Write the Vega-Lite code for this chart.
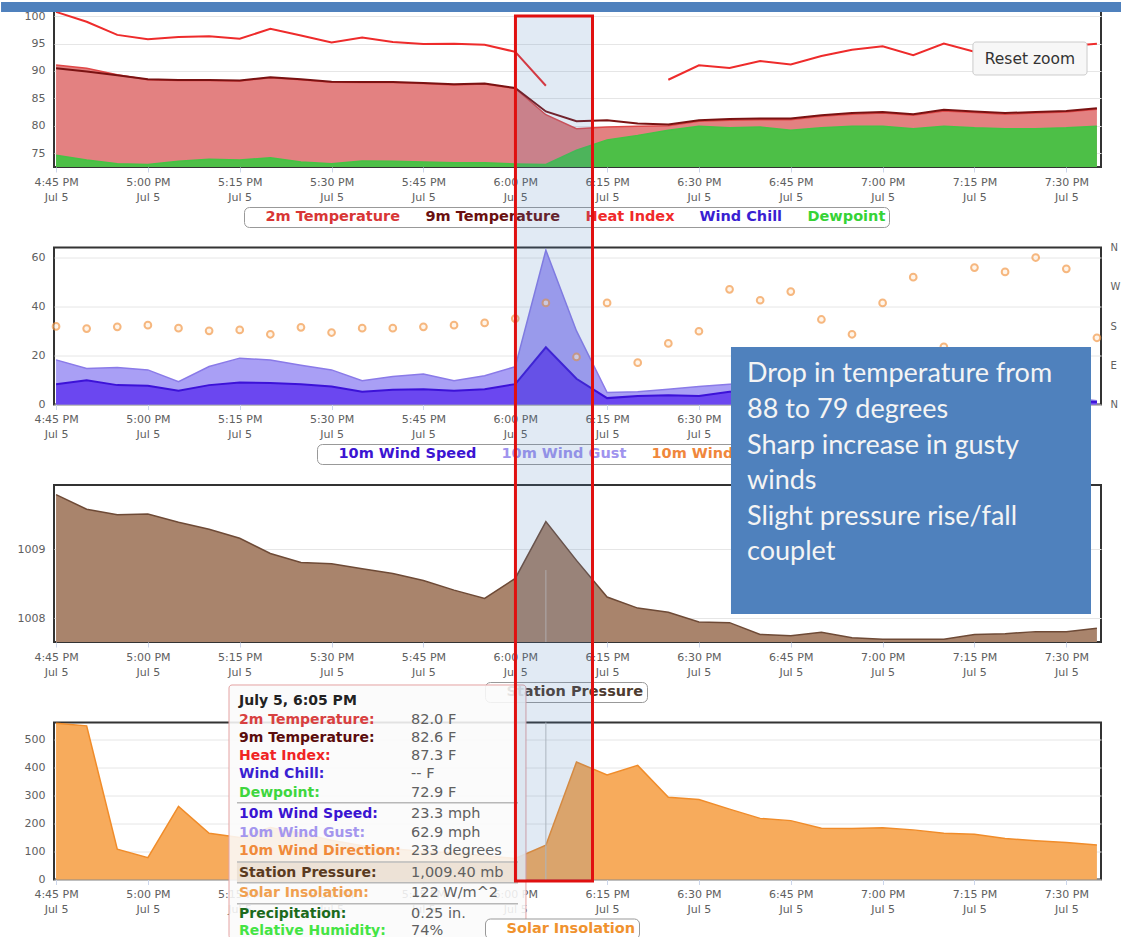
{
  "$schema": "https://vega.github.io/schema/vega-lite/v6.json",
  "padding": 0,
  "autosize": {"type": "pad"},
  "background": "#ffffff",
  "spacing": 80.5,
  "bounds": "flush",
  "config": {
    "view": {"stroke": "#333333", "strokeWidth": 2},
    "axis": {"labelFont": "DejaVu Sans", "labelFontSize": 11, "labelColor": "#606060", "gridColor": "#e6e6e6", "tickColor": "#ccd6eb", "domain": false},
    "legend": {"orient": "none", "direction": "horizontal", "labelFont": "DejaVu Sans", "labelFontSize": 14.5, "labelFontWeight": "bold", "symbolSize": 144, "symbolOpacity": 0, "symbolStrokeWidth": 0, "labelOffset": 4, "columnPadding": 6, "padding": 3, "strokeColor": "#999999", "cornerRadius": 5, "fillColor": "#ffffff"}
  },
  "resolve": {"scale": {"color": "independent"}, "legend": {"color": "independent"}},
  "datasets": {
    "wx": [
      {"t": "2014-07-05T16:45:00", "tmp2": 91.1, "tmp9": 90.5, "hi": 100.8, "hiSeg": "a", "dp": 74.6, "ws": 8.3, "wg": 18.2, "wd": 179, "p": 1009.79, "sol": 557},
      {"t": "2014-07-05T16:50:00", "tmp2": 90.5, "tmp9": 89.9, "hi": 99.0, "hiSeg": "a", "dp": 73.7, "ws": 9.9, "wg": 14.7, "wd": 174, "p": 1009.58, "sol": 548},
      {"t": "2014-07-05T16:55:00", "tmp2": 89.3, "tmp9": 89.2, "hi": 96.6, "hiSeg": "a", "dp": 73.05, "ws": 7.9, "wg": 15.1, "wd": 178, "p": 1009.50, "sol": 108},
      {"t": "2014-07-05T17:00:00", "tmp2": 88.4, "tmp9": 88.5, "hi": 95.8, "hiSeg": "a", "dp": 72.9, "ws": 7.6, "wg": 14.1, "wd": 182, "p": 1009.51, "sol": 78},
      {"t": "2014-07-05T17:05:00", "tmp2": 88.25, "tmp9": 88.35, "hi": 96.2, "hiSeg": "a", "dp": 73.5, "ws": 5.6, "wg": 9.3, "wd": 175, "p": 1009.39, "sol": 261},
      {"t": "2014-07-05T17:10:00", "tmp2": 88.25, "tmp9": 88.35, "hi": 96.35, "hiSeg": "a", "dp": 73.85, "ws": 7.9, "wg": 15.5, "wd": 169, "p": 1009.29, "sol": 165},
      {"t": "2014-07-05T17:15:00", "tmp2": 88.15, "tmp9": 88.25, "hi": 95.9, "hiSeg": "a", "dp": 73.7, "ws": 9.0, "wg": 18.9, "wd": 171, "p": 1009.16, "sol": 150},
      {"t": "2014-07-05T17:20:00", "tmp2": 88.75, "tmp9": 88.85, "hi": 97.7, "hiSeg": "a", "dp": 74.15, "ws": 8.8, "wg": 18.1, "wd": 161, "p": 1008.94, "sol": 185},
      {"t": "2014-07-05T17:25:00", "tmp2": 88.4, "tmp9": 88.5, "hi": 96.5, "hiSeg": "a", "dp": 73.35, "ws": 8.3, "wg": 16.0, "wd": 177, "p": 1008.81, "sol": 165},
      {"t": "2014-07-05T17:30:00", "tmp2": 87.95, "tmp9": 88.05, "hi": 95.2, "hiSeg": "a", "dp": 73.05, "ws": 7.3, "wg": 14.1, "wd": 165, "p": 1008.79, "sol": 140},
      {"t": "2014-07-05T17:35:00", "tmp2": 87.9, "tmp9": 88.0, "hi": 96.1, "hiSeg": "a", "dp": 73.55, "ws": 5.2, "wg": 9.7, "wd": 175, "p": 1008.72, "sol": 120},
      {"t": "2014-07-05T17:40:00", "tmp2": 87.9, "tmp9": 88.0, "hi": 95.3, "hiSeg": "a", "dp": 73.5, "ws": 6.0, "wg": 11.4, "wd": 175, "p": 1008.65, "sol": 110},
      {"t": "2014-07-05T17:45:00", "tmp2": 87.7, "tmp9": 87.8, "hi": 94.95, "hiSeg": "a", "dp": 73.35, "ws": 6.2, "wg": 12.4, "wd": 178, "p": 1008.55, "sol": 100},
      {"t": "2014-07-05T17:50:00", "tmp2": 87.45, "tmp9": 87.55, "hi": 95.0, "hiSeg": "a", "dp": 73.2, "ws": 5.6, "wg": 9.7, "wd": 182, "p": 1008.41, "sol": 95},
      {"t": "2014-07-05T17:55:00", "tmp2": 87.6, "tmp9": 87.7, "hi": 94.8, "hiSeg": "a", "dp": 73.2, "ws": 6.2, "wg": 11.7, "wd": 187, "p": 1008.29, "sol": 85},
      {"t": "2014-07-05T18:00:00", "tmp2": 86.8, "tmp9": 86.9, "hi": 93.5, "hiSeg": "a", "dp": 73.0, "ws": 8.3, "wg": 15.4, "wd": 197, "p": 1008.58, "sol": 75},
      {"t": "2014-07-05T18:05:00", "tmp2": 82.0, "tmp9": 82.6, "hi": 87.3, "hiSeg": "a", "dp": 72.9, "ws": 23.3, "wg": 62.9, "wd": 233, "p": 1009.40, "sol": 122},
      {"t": "2014-07-05T18:10:00", "tmp2": 79.45, "tmp9": 80.8, "hi": null, "hiSeg": null, "dp": 75.5, "ws": 10.5, "wg": 30.0, "wd": 109, "p": 1008.84, "sol": 419},
      {"t": "2014-07-05T18:15:00", "tmp2": 79.75, "tmp9": 81.0, "hi": null, "hiSeg": null, "dp": 77.4, "ws": 2.6, "wg": 4.9, "wd": 233, "p": 1008.31, "sol": 373},
      {"t": "2014-07-05T18:20:00", "tmp2": 79.9, "tmp9": 80.4, "hi": null, "hiSeg": null, "dp": 78.2, "ws": 3.5, "wg": 5.2, "wd": 96, "p": 1008.15, "sol": 407},
      {"t": "2014-07-05T18:25:00", "tmp2": 80.0, "tmp9": 80.2, "hi": 88.4, "hiSeg": "b", "dp": 79.15, "ws": 3.8, "wg": 6.2, "wd": 140, "p": 1008.09, "sol": 293},
      {"t": "2014-07-05T18:30:00", "tmp2": 80.8, "tmp9": 81.0, "hi": 91.05, "hiSeg": "b", "dp": 79.9, "ws": 3.5, "wg": 7.3, "wd": 168, "p": 1007.95, "sol": 285},
      {"t": "2014-07-05T18:35:00", "tmp2": 81.0, "tmp9": 81.2, "hi": 90.55, "hiSeg": "b", "dp": 79.6, "ws": 5.2, "wg": 8.3, "wd": 264, "p": 1007.94, "sol": 251},
      {"t": "2014-07-05T18:40:00", "tmp2": 81.1, "tmp9": 81.3, "hi": 91.8, "hiSeg": "b", "dp": 79.75, "ws": 5.5, "wg": 9.0, "wd": 239, "p": 1007.77, "sol": 218},
      {"t": "2014-07-05T18:45:00", "tmp2": 81.1, "tmp9": 81.3, "hi": 91.2, "hiSeg": "b", "dp": 79.15, "ws": 5.0, "wg": 8.5, "wd": 259, "p": 1007.75, "sol": 210},
      {"t": "2014-07-05T18:50:00", "tmp2": 81.7, "tmp9": 81.9, "hi": 92.75, "hiSeg": "b", "dp": 79.6, "ws": 4.5, "wg": 8.0, "wd": 195, "p": 1007.80, "sol": 183},
      {"t": "2014-07-05T18:55:00", "tmp2": 82.1, "tmp9": 82.3, "hi": 93.9, "hiSeg": "b", "dp": 79.9, "ws": 4.0, "wg": 7.5, "wd": 161, "p": 1007.72, "sol": 182},
      {"t": "2014-07-05T19:00:00", "tmp2": 82.3, "tmp9": 82.5, "hi": 94.5, "hiSeg": "b", "dp": 79.9, "ws": 4.0, "wg": 7.0, "wd": 233, "p": 1007.70, "sol": 185},
      {"t": "2014-07-05T19:05:00", "tmp2": 81.9, "tmp9": 82.1, "hi": 92.9, "hiSeg": "b", "dp": 79.45, "ws": 3.5, "wg": 6.5, "wd": 292, "p": 1007.70, "sol": 177},
      {"t": "2014-07-05T19:10:00", "tmp2": 82.7, "tmp9": 82.9, "hi": 95.0, "hiSeg": "b", "dp": 79.9, "ws": 3.0, "wg": 6.0, "wd": 132, "p": 1007.70, "sol": 165},
      {"t": "2014-07-05T19:15:00", "tmp2": 82.4, "tmp9": 82.6, "hi": 93.5, "hiSeg": "b", "dp": 79.6, "ws": 3.0, "wg": 5.5, "wd": 314, "p": 1007.77, "sol": 161},
      {"t": "2014-07-05T19:20:00", "tmp2": 82.1, "tmp9": 82.3, "hi": 93.3, "hiSeg": "b", "dp": 79.45, "ws": 2.5, "wg": 5.0, "wd": 304, "p": 1007.78, "sol": 146},
      {"t": "2014-07-05T19:25:00", "tmp2": 82.3, "tmp9": 82.5, "hi": 94.0, "hiSeg": "b", "dp": 79.45, "ws": 2.0, "wg": 4.0, "wd": 337, "p": 1007.81, "sol": 138},
      {"t": "2014-07-05T19:30:00", "tmp2": 82.5, "tmp9": 82.7, "hi": 94.5, "hiSeg": "b", "dp": 79.6, "ws": 1.5, "wg": 3.0, "wd": 311, "p": 1007.81, "sol": 132},
      {"t": "2014-07-05T19:35:00", "tmp2": 83.0, "tmp9": 83.2, "hi": 95.0, "hiSeg": "b", "dp": 79.9, "ws": 1.0, "wg": 1.5, "wd": 153, "p": 1007.86, "sol": 123}
    ]
  },
  "vconcat": [
    {
      "width": 1047,
      "height": 157,
      "data": {"name": "wx", "format": {"parse": {"t": "date"}}},
      "encoding": {
        "x": {"field": "t", "type": "temporal", "title": null,
          "scale": {"domain": [{"year": 2014, "month": 7, "date": 5, "hours": 16, "minutes": 44, "seconds": 40}, {"year": 2014, "month": 7, "date": 5, "hours": 19, "minutes": 35, "seconds": 40}]},
          "axis": {"title": null, "grid": false, "domain": false, "tickSize": 5, "labelPadding": 4, "labelFlush": false, "labelOverlap": false, "labelBaseline": "top", "labelLineHeight": 15,
            "values": [{"year": 2014, "month": 7, "date": 5, "hours": 16, "minutes": 45}, {"year": 2014, "month": 7, "date": 5, "hours": 17, "minutes": 0}, {"year": 2014, "month": 7, "date": 5, "hours": 17, "minutes": 15}, {"year": 2014, "month": 7, "date": 5, "hours": 17, "minutes": 30}, {"year": 2014, "month": 7, "date": 5, "hours": 17, "minutes": 45}, {"year": 2014, "month": 7, "date": 5, "hours": 18, "minutes": 0}, {"year": 2014, "month": 7, "date": 5, "hours": 18, "minutes": 15}, {"year": 2014, "month": 7, "date": 5, "hours": 18, "minutes": 30}, {"year": 2014, "month": 7, "date": 5, "hours": 18, "minutes": 45}, {"year": 2014, "month": 7, "date": 5, "hours": 19, "minutes": 0}, {"year": 2014, "month": 7, "date": 5, "hours": 19, "minutes": 15}, {"year": 2014, "month": 7, "date": 5, "hours": 19, "minutes": 30}],
            "labelExpr": "[timeFormat(datum.value, '%-I:%M %p'), timeFormat(datum.value, '%b %-d')]"}
        }
      },
      "layer": [
        {"mark": {"type": "area", "color": "#e38181"},
          "encoding": {"y": {"field": "tmp2", "type": "quantitative", "title": null, "scale": {"domain": [72.44, 101.15]}, "axis": {"title": null, "values": [75, 80, 85, 90, 95, 100], "grid": true, "tickSize": 0, "labelPadding": 9}}, "y2": {"datum": 72.44}}},
        {"mark": {"type": "line", "strokeWidth": 1.5},
          "encoding": {"y": {"field": "tmp2", "type": "quantitative", "title": null, "scale": {"domain": [72.44, 101.15]}, "axis": {"title": null, "values": [75, 80, 85, 90, 95, 100], "grid": true, "tickSize": 0, "labelPadding": 9}},
            "color": {"datum": "2m Temperature", "type": "nominal",
              "scale": {"domain": ["2m Temperature", "9m Temperature", "Heat Index", "Wind Chill", "Dewpoint"], "range": ["#e04848", "#7a1212", "#ee2b2b", "#3b1fd6", "#44c244"]},
              "legend": {"title": null, "orient": "none", "legendX": 190, "legendY": 197,
                "encode": {"labels": {"update": {"fill": {"signal": "datum.label == '2m Temperature' ? '#d83636' : datum.label == '9m Temperature' ? '#6a1010' : datum.label == 'Heat Index' ? '#f02a2a' : datum.label == 'Wind Chill' ? '#3a1fd2' : '#36d336'"}}}}}}}},
        {"mark": {"type": "area", "color": "#4dbf47"},
          "encoding": {"y": {"field": "dp", "type": "quantitative", "title": null, "scale": {"domain": [72.44, 101.15]}, "axis": {"title": null, "values": [75, 80, 85, 90, 95, 100], "grid": true, "tickSize": 0, "labelPadding": 9}}, "y2": {"datum": 72.44}}},
        {"mark": {"type": "line", "strokeWidth": 1.5},
          "encoding": {"y": {"field": "dp", "type": "quantitative", "title": null, "scale": {"domain": [72.44, 101.15]}, "axis": {"title": null, "values": [75, 80, 85, 90, 95, 100], "grid": true, "tickSize": 0, "labelPadding": 9}},
            "color": {"datum": "Dewpoint", "type": "nominal",
              "scale": {"domain": ["2m Temperature", "9m Temperature", "Heat Index", "Wind Chill", "Dewpoint"], "range": ["#e04848", "#7a1212", "#ee2b2b", "#3b1fd6", "#44c244"]},
              "legend": {"title": null, "orient": "none", "legendX": 190, "legendY": 197,
                "encode": {"labels": {"update": {"fill": {"signal": "datum.label == '2m Temperature' ? '#d83636' : datum.label == '9m Temperature' ? '#6a1010' : datum.label == 'Heat Index' ? '#f02a2a' : datum.label == 'Wind Chill' ? '#3a1fd2' : '#36d336'"}}}}}}}},
        {"mark": {"type": "line", "strokeWidth": 2},
          "encoding": {"y": {"field": "tmp9", "type": "quantitative", "title": null, "scale": {"domain": [72.44, 101.15]}, "axis": {"title": null, "values": [75, 80, 85, 90, 95, 100], "grid": true, "tickSize": 0, "labelPadding": 9}},
            "color": {"datum": "9m Temperature", "type": "nominal",
              "scale": {"domain": ["2m Temperature", "9m Temperature", "Heat Index", "Wind Chill", "Dewpoint"], "range": ["#e04848", "#7a1212", "#ee2b2b", "#3b1fd6", "#44c244"]},
              "legend": {"title": null, "orient": "none", "legendX": 190, "legendY": 197,
                "encode": {"labels": {"update": {"fill": {"signal": "datum.label == '2m Temperature' ? '#d83636' : datum.label == '9m Temperature' ? '#6a1010' : datum.label == 'Heat Index' ? '#f02a2a' : datum.label == 'Wind Chill' ? '#3a1fd2' : '#36d336'"}}}}}}}},
        {"transform": [{"filter": "datum.hi != null"}],
          "mark": {"type": "line", "strokeWidth": 2},
          "encoding": {"y": {"field": "hi", "type": "quantitative", "title": null, "scale": {"domain": [72.44, 101.15]}, "axis": {"title": null, "values": [75, 80, 85, 90, 95, 100], "grid": true, "tickSize": 0, "labelPadding": 9}},
            "detail": {"field": "hiSeg"},
            "color": {"datum": "Heat Index", "type": "nominal",
              "scale": {"domain": ["2m Temperature", "9m Temperature", "Heat Index", "Wind Chill", "Dewpoint"], "range": ["#e04848", "#7a1212", "#ee2b2b", "#3b1fd6", "#44c244"]},
              "legend": {"title": null, "orient": "none", "legendX": 190, "legendY": 197,
                "encode": {"labels": {"update": {"fill": {"signal": "datum.label == '2m Temperature' ? '#d83636' : datum.label == '9m Temperature' ? '#6a1010' : datum.label == 'Heat Index' ? '#f02a2a' : datum.label == 'Wind Chill' ? '#3a1fd2' : '#36d336'"}}}}}}}},
        {"data": {"values": [{"t": "2014-07-05T19:14:45", "t2": "2014-07-05T19:33:23", "y": 89.264, "y2": 95.298, "label": "Reset zoom"}], "format": {"parse": {"t": "date", "t2": "date"}}},
          "mark": {"type": "rect", "fill": "#f7f7f7", "stroke": "#cccccc", "strokeWidth": 1, "cornerRadius": 3, "clip": false},
          "encoding": {"x2": {"field": "t2"}, "y": {"field": "y", "type": "quantitative", "title": null, "scale": {"domain": [72.44, 101.15]}, "axis": {"title": null, "values": [75, 80, 85, 90, 95, 100], "grid": true, "tickSize": 0, "labelPadding": 9}}, "y2": {"field": "y2"}}},
        {"data": {"values": [{"t": "2014-07-05T19:24:04", "y": 92.28, "label": "Reset zoom"}], "format": {"parse": {"t": "date"}}},
          "mark": {"type": "text", "font": "DejaVu Sans", "fontSize": 15.5, "color": "#333333", "align": "center", "baseline": "middle"},
          "encoding": {"y": {"field": "y", "type": "quantitative", "title": null, "scale": {"domain": [72.44, 101.15]}, "axis": {"title": null, "values": [75, 80, 85, 90, 95, 100], "grid": true, "tickSize": 0, "labelPadding": 9}},
            "text": {"field": "label"}}},
        {"data": {"values": [{"t": "2014-07-05T16:36:01", "t2": "2014-07-05T19:39:05", "y": 100.784, "y2": 102.613}], "format": {"parse": {"t": "date", "t2": "date"}}},
          "mark": {"type": "rect", "fill": "#4f81bd", "clip": false},
          "encoding": {"x2": {"field": "t2"}, "y": {"field": "y", "type": "quantitative", "title": null, "scale": {"domain": [72.44, 101.15]}, "axis": {"title": null, "values": [75, 80, 85, 90, 95, 100], "grid": true, "tickSize": 0, "labelPadding": 9}}, "y2": {"field": "y2"}}}
      ]
    },
    {
      "width": 1047,
      "height": 157,
      "data": {"name": "wx", "format": {"parse": {"t": "date"}}},
      "resolve": {"scale": {"y": "independent"}},
      "encoding": {
        "x": {"field": "t", "type": "temporal", "title": null,
          "scale": {"domain": [{"year": 2014, "month": 7, "date": 5, "hours": 16, "minutes": 44, "seconds": 40}, {"year": 2014, "month": 7, "date": 5, "hours": 19, "minutes": 35, "seconds": 40}]},
          "axis": {"title": null, "grid": false, "domain": false, "tickSize": 5, "labelPadding": 4, "labelFlush": false, "labelOverlap": false, "labelBaseline": "top", "labelLineHeight": 15,
            "values": [{"year": 2014, "month": 7, "date": 5, "hours": 16, "minutes": 45}, {"year": 2014, "month": 7, "date": 5, "hours": 17, "minutes": 0}, {"year": 2014, "month": 7, "date": 5, "hours": 17, "minutes": 15}, {"year": 2014, "month": 7, "date": 5, "hours": 17, "minutes": 30}, {"year": 2014, "month": 7, "date": 5, "hours": 17, "minutes": 45}, {"year": 2014, "month": 7, "date": 5, "hours": 18, "minutes": 0}, {"year": 2014, "month": 7, "date": 5, "hours": 18, "minutes": 15}, {"year": 2014, "month": 7, "date": 5, "hours": 18, "minutes": 30}, {"year": 2014, "month": 7, "date": 5, "hours": 18, "minutes": 45}, {"year": 2014, "month": 7, "date": 5, "hours": 19, "minutes": 0}, {"year": 2014, "month": 7, "date": 5, "hours": 19, "minutes": 15}, {"year": 2014, "month": 7, "date": 5, "hours": 19, "minutes": 30}],
            "labelExpr": "[timeFormat(datum.value, '%-I:%M %p'), timeFormat(datum.value, '%b %-d')]"}
        }
      },
      "layer": [
        {"mark": {"type": "area", "color": "#a99ff5"},
          "encoding": {"y": {"field": "wg", "type": "quantitative", "scale": {"domain": [0, 64]}, "axis": {"title": null, "orient": "left", "values": [0, 20, 40, 60], "grid": true, "tickSize": 0, "labelPadding": 9}}}},
        {"mark": {"type": "line", "strokeWidth": 1.5},
          "encoding": {"y": {"field": "wg", "type": "quantitative", "scale": {"domain": [0, 64]}, "axis": null},
            "color": {"datum": "10m Wind Gust", "type": "nominal",
              "scale": {"domain": ["10m Wind Speed", "10m Wind Gust", "10m Wind Direction"], "range": ["#3c12d8", "#8a7ae8", "#f39a4a"]},
              "legend": {"title": null, "orient": "none", "legendX": 263, "legendY": 196.5,
                "encode": {"labels": {"update": {"fill": {"signal": "datum.label == '10m Wind Speed' ? '#3c14d2' : datum.label == '10m Wind Gust' ? '#a094ee' : '#f0873c'"}}}}}}}},
        {"mark": {"type": "area", "color": "#6b47f0"},
          "encoding": {"y": {"field": "ws", "type": "quantitative", "scale": {"domain": [0, 64]}, "axis": null}}},
        {"mark": {"type": "line", "strokeWidth": 2},
          "encoding": {"y": {"field": "ws", "type": "quantitative", "scale": {"domain": [0, 64]}, "axis": null},
            "color": {"datum": "10m Wind Speed", "type": "nominal",
              "scale": {"domain": ["10m Wind Speed", "10m Wind Gust", "10m Wind Direction"], "range": ["#3c12d8", "#8a7ae8", "#f39a4a"]},
              "legend": {"title": null, "orient": "none", "legendX": 263, "legendY": 196.5,
                "encode": {"labels": {"update": {"fill": {"signal": "datum.label == '10m Wind Speed' ? '#3c14d2' : datum.label == '10m Wind Gust' ? '#a094ee' : '#f0873c'"}}}}}}}},
        {"mark": {"type": "point", "shape": "circle", "filled": false, "fill": "#fff1e2", "size": 45, "strokeWidth": 2},
          "encoding": {"y": {"field": "wd", "type": "quantitative", "scale": {"domain": [0, 360]},
              "axis": {"title": null, "orient": "right", "values": [0, 90, 180, 270, 360], "grid": false, "tickSize": 0, "labelPadding": 9, "labelFontSize": 10, "labelAlign": "left",
                "labelExpr": "datum.value == 90 ? 'E' : datum.value == 180 ? 'S' : datum.value == 270 ? 'W' : 'N'"}},
            "color": {"datum": "10m Wind Direction", "type": "nominal",
              "scale": {"domain": ["10m Wind Speed", "10m Wind Gust", "10m Wind Direction"], "range": ["#3c12d8", "#8a7ae8", "#f39a4a"]},
              "legend": {"title": null, "orient": "none", "legendX": 263, "legendY": 196.5,
                "encode": {"labels": {"update": {"fill": {"signal": "datum.label == '10m Wind Speed' ? '#3c14d2' : datum.label == '10m Wind Gust' ? '#a094ee' : '#f0873c'"}}}}}}}}
      ]
    },
    {
      "width": 1047,
      "height": 157,
      "data": {"name": "wx", "format": {"parse": {"t": "date"}}},
      "encoding": {
        "x": {"field": "t", "type": "temporal", "title": null,
          "scale": {"domain": [{"year": 2014, "month": 7, "date": 5, "hours": 16, "minutes": 44, "seconds": 40}, {"year": 2014, "month": 7, "date": 5, "hours": 19, "minutes": 35, "seconds": 40}]},
          "axis": {"title": null, "grid": false, "domain": false, "tickSize": 5, "labelPadding": 4, "labelFlush": false, "labelOverlap": false, "labelBaseline": "top", "labelLineHeight": 15,
            "values": [{"year": 2014, "month": 7, "date": 5, "hours": 16, "minutes": 45}, {"year": 2014, "month": 7, "date": 5, "hours": 17, "minutes": 0}, {"year": 2014, "month": 7, "date": 5, "hours": 17, "minutes": 15}, {"year": 2014, "month": 7, "date": 5, "hours": 17, "minutes": 30}, {"year": 2014, "month": 7, "date": 5, "hours": 17, "minutes": 45}, {"year": 2014, "month": 7, "date": 5, "hours": 18, "minutes": 0}, {"year": 2014, "month": 7, "date": 5, "hours": 18, "minutes": 15}, {"year": 2014, "month": 7, "date": 5, "hours": 18, "minutes": 30}, {"year": 2014, "month": 7, "date": 5, "hours": 18, "minutes": 45}, {"year": 2014, "month": 7, "date": 5, "hours": 19, "minutes": 0}, {"year": 2014, "month": 7, "date": 5, "hours": 19, "minutes": 15}, {"year": 2014, "month": 7, "date": 5, "hours": 19, "minutes": 30}],
            "labelExpr": "[timeFormat(datum.value, '%-I:%M %p'), timeFormat(datum.value, '%b %-d')]"}
        }
      },
      "layer": [
        {"mark": {"type": "area", "color": "#a9846c"},
          "encoding": {"y": {"field": "p", "type": "quantitative", "title": null, "scale": {"domain": [1007.66, 1009.93]}, "axis": {"title": null, "values": [1008, 1009], "grid": true, "tickSize": 0, "labelPadding": 9, "format": "d"}}, "y2": {"datum": 1007.66}}},
        {"mark": {"type": "line", "strokeWidth": 1.5},
          "encoding": {"y": {"field": "p", "type": "quantitative", "title": null, "scale": {"domain": [1007.66, 1009.93]}, "axis": {"title": null, "values": [1008, 1009], "grid": true, "tickSize": 0, "labelPadding": 9, "format": "d"}},
            "color": {"datum": "Station Pressure", "type": "nominal", "scale": {"domain": ["Station Pressure"], "range": ["#6e4a36"]},
              "legend": {"title": null, "orient": "none", "legendX": 431, "legendY": 197, "labelColor": "#4e3c30"}}}},
        {"data": {"values": [{"t": "2014-07-05T18:05:00", "y": 1007.66, "y2": 1008.70}], "format": {"parse": {"t": "date"}}},
          "mark": {"type": "rule", "color": "#c4b4a8", "strokeWidth": 1},
          "encoding": {"y": {"field": "y", "type": "quantitative", "title": null, "scale": {"domain": [1007.66, 1009.93]}, "axis": {"title": null, "values": [1008, 1009], "grid": true, "tickSize": 0, "labelPadding": 9, "format": "d"}}, "y2": {"field": "y2"}}},
        {"data": {"values": [{"t": "2014-07-05T18:35:14", "t2": "2014-07-05T19:34:02", "y": 1008.065, "y2": 1011.925}], "format": {"parse": {"t": "date", "t2": "date"}}},
          "mark": {"type": "rect", "fill": "#4f81bd", "clip": false},
          "encoding": {"x2": {"field": "t2"}, "y": {"field": "y", "type": "quantitative", "title": null, "scale": {"domain": [1007.66, 1009.93]}, "axis": {"title": null, "values": [1008, 1009], "grid": true, "tickSize": 0, "labelPadding": 9, "format": "d"}}, "y2": {"field": "y2"}}},
        {"data": {"values": [
            {"t": "2014-07-05T18:37:51", "text": "Drop in temperature from", "y": 1011.535},
            {"t": "2014-07-05T18:37:51", "text": "88 to 79 degrees", "y": 1011.014},
            {"t": "2014-07-05T18:37:51", "text": "Sharp increase  in gusty", "y": 1010.494},
            {"t": "2014-07-05T18:37:51", "text": "winds", "y": 1009.988},
            {"t": "2014-07-05T18:37:51", "text": "Slight pressure rise/fall", "y": 1009.467},
            {"t": "2014-07-05T18:37:51", "text": "couplet", "y": 1008.961}
          ], "format": {"parse": {"t": "date"}}},
          "mark": {"type": "text", "font": "Lato", "fontSize": 27, "color": "#f4f4f4", "align": "left", "baseline": "middle", "clip": false},
          "encoding": {"y": {"field": "y", "type": "quantitative", "title": null, "scale": {"domain": [1007.66, 1009.93]}, "axis": {"title": null, "values": [1008, 1009], "grid": true, "tickSize": 0, "labelPadding": 9, "format": "d"}},
            "text": {"field": "text"}}}
      ]
    },
    {
      "width": 1047,
      "height": 157,
      "data": {"name": "wx", "format": {"parse": {"t": "date"}}},
      "encoding": {
        "x": {"field": "t", "type": "temporal", "title": null,
          "scale": {"domain": [{"year": 2014, "month": 7, "date": 5, "hours": 16, "minutes": 44, "seconds": 40}, {"year": 2014, "month": 7, "date": 5, "hours": 19, "minutes": 35, "seconds": 40}]},
          "axis": {"title": null, "grid": false, "domain": false, "tickSize": 5, "labelPadding": 4, "labelFlush": false, "labelOverlap": false, "labelBaseline": "top", "labelLineHeight": 15,
            "values": [{"year": 2014, "month": 7, "date": 5, "hours": 16, "minutes": 45}, {"year": 2014, "month": 7, "date": 5, "hours": 17, "minutes": 0}, {"year": 2014, "month": 7, "date": 5, "hours": 17, "minutes": 15}, {"year": 2014, "month": 7, "date": 5, "hours": 17, "minutes": 30}, {"year": 2014, "month": 7, "date": 5, "hours": 17, "minutes": 45}, {"year": 2014, "month": 7, "date": 5, "hours": 18, "minutes": 0}, {"year": 2014, "month": 7, "date": 5, "hours": 18, "minutes": 15}, {"year": 2014, "month": 7, "date": 5, "hours": 18, "minutes": 30}, {"year": 2014, "month": 7, "date": 5, "hours": 18, "minutes": 45}, {"year": 2014, "month": 7, "date": 5, "hours": 19, "minutes": 0}, {"year": 2014, "month": 7, "date": 5, "hours": 19, "minutes": 15}, {"year": 2014, "month": 7, "date": 5, "hours": 19, "minutes": 30}],
            "labelExpr": "[timeFormat(datum.value, '%-I:%M %p'), timeFormat(datum.value, '%b %-d')]"}
        }
      },
      "layer": [
        {"mark": {"type": "area", "color": "#f7ab5c"},
          "encoding": {"y": {"field": "sol", "type": "quantitative", "title": null, "scale": {"domain": [0, 560]}, "axis": {"title": null, "values": [0, 100, 200, 300, 400, 500], "grid": true, "tickSize": 0, "labelPadding": 9}}}},
        {"mark": {"type": "line", "strokeWidth": 1.5},
          "encoding": {"y": {"field": "sol", "type": "quantitative", "title": null, "scale": {"domain": [0, 560]}, "axis": {"title": null, "values": [0, 100, 200, 300, 400, 500], "grid": true, "tickSize": 0, "labelPadding": 9}},
            "color": {"datum": "Solar Insolation", "type": "nominal", "scale": {"domain": ["Solar Insolation"], "range": ["#f08c2a"]},
              "legend": {"title": null, "orient": "none", "legendX": 431, "legendY": 196, "labelColor": "#f0922e"}}}},
        {"data": {"values": [{"t": "2014-07-05T18:05:00", "y": 0, "y2": 560}], "format": {"parse": {"t": "date"}}},
          "mark": {"type": "rule", "color": "#c0c0c0", "strokeWidth": 1},
          "encoding": {"y": {"field": "y", "type": "quantitative", "title": null, "scale": {"domain": [0, 560]}, "axis": {"title": null, "values": [0, 100, 200, 300, 400, 500], "grid": true, "tickSize": 0, "labelPadding": 9}}, "y2": {"field": "y2"}}},
        {"data": {"values": [{"t": "2014-07-05T17:13:15", "t2": "2014-07-05T18:01:45", "y": -210.4, "y2": 693.8}], "format": {"parse": {"t": "date", "t2": "date"}}},
          "mark": {"type": "rect", "fill": "#fafafa", "fillOpacity": 0.88, "stroke": "#e4a2a2", "strokeWidth": 1, "cornerRadius": 3, "clip": false},
          "encoding": {"x2": {"field": "t2"}, "y": {"field": "y", "type": "quantitative", "title": null, "scale": {"domain": [0, 560]}, "axis": {"title": null, "values": [0, 100, 200, 300, 400, 500], "grid": true, "tickSize": 0, "labelPadding": 9}}, "y2": {"field": "y2"}}},
        {"data": {"values": [{"t": "2014-07-05T17:14:33", "t2": "2014-07-05T18:00:27", "y": -8.9, "y2": 58.9}], "format": {"parse": {"t": "date", "t2": "date"}}},
          "mark": {"type": "rect", "fill": "#eadfd2", "fillOpacity": 0.8, "clip": false},
          "encoding": {"x2": {"field": "t2"}, "y": {"field": "y", "type": "quantitative", "title": null, "scale": {"domain": [0, 560]}, "axis": {"title": null, "values": [0, 100, 200, 300, 400, 500], "grid": true, "tickSize": 0, "labelPadding": 9}}, "y2": {"field": "y2"}}},
        {"data": {"values": [
            {"t": "2014-07-05T17:14:33", "t2": "2014-07-05T18:00:27", "y": 273.9},
            {"t": "2014-07-05T17:14:33", "t2": "2014-07-05T18:00:27", "y": 62.4},
            {"t": "2014-07-05T17:14:33", "t2": "2014-07-05T18:00:27", "y": -11.4},
            {"t": "2014-07-05T17:14:33", "t2": "2014-07-05T18:00:27", "y": -86.3}
          ], "format": {"parse": {"t": "date", "t2": "date"}}},
          "mark": {"type": "rule", "color": "#b8b8b8", "strokeWidth": 1.5, "clip": false},
          "encoding": {"x2": {"field": "t2"}, "y": {"field": "y", "type": "quantitative", "title": null, "scale": {"domain": [0, 560]}, "axis": {"title": null, "values": [0, 100, 200, 300, 400, 500], "grid": true, "tickSize": 0, "labelPadding": 9}}}},
        {"data": {"values": [
            {"t": "2014-07-05T17:14:53", "label": "July 5, 6:05 PM", "y": 635.6},
            {"t": "2014-07-05T17:14:53", "label": "2m Temperature:", "y": 570.0},
            {"t": "2014-07-05T17:14:53", "label": "9m Temperature:", "y": 504.7},
            {"t": "2014-07-05T17:14:53", "label": "Heat Index:", "y": 440.5},
            {"t": "2014-07-05T17:14:53", "label": "Wind Chill:", "y": 375.2},
            {"t": "2014-07-05T17:14:53", "label": "Dewpoint:", "y": 309.6},
            {"t": "2014-07-05T17:14:53", "label": "10m Wind Speed:", "y": 232.6},
            {"t": "2014-07-05T17:14:53", "label": "10m Wind Gust:", "y": 166.9},
            {"t": "2014-07-05T17:14:53", "label": "10m Wind Direction:", "y": 101.7},
            {"t": "2014-07-05T17:14:53", "label": "Station Pressure:", "y": 24.3},
            {"t": "2014-07-05T17:14:53", "label": "Solar Insolation:", "y": -48.2},
            {"t": "2014-07-05T17:14:53", "label": "Precipitation:", "y": -124.1},
            {"t": "2014-07-05T17:14:53", "label": "Relative Humidity:", "y": -184.8}
          ], "format": {"parse": {"t": "date"}}},
          "mark": {"type": "text", "font": "DejaVu Sans", "fontSize": 14, "fontWeight": "bold", "align": "left", "baseline": "middle", "clip": false},
          "encoding": {"y": {"field": "y", "type": "quantitative", "title": null, "scale": {"domain": [0, 560]}, "axis": {"title": null, "values": [0, 100, 200, 300, 400, 500], "grid": true, "tickSize": 0, "labelPadding": 9}},
            "text": {"field": "label"},
            "fill": {"field": "label", "type": "nominal", "legend": null,
              "scale": {"domain": ["July 5, 6:05 PM", "2m Temperature:", "9m Temperature:", "Heat Index:", "Wind Chill:", "Dewpoint:", "10m Wind Speed:", "10m Wind Gust:", "10m Wind Direction:", "Station Pressure:", "Solar Insolation:", "Precipitation:", "Relative Humidity:"],
                "range": ["#222222", "#d84040", "#5a0c0c", "#f02424", "#3a1fd2", "#3ed63e", "#3a14d2", "#a496ee", "#f08a3a", "#5a3a20", "#f0a050", "#1c6a1c", "#44e444"]}}}},
        {"data": {"values": [
            {"t": "2014-07-05T17:42:59", "value": "82.0 F", "y": 570.0},
            {"t": "2014-07-05T17:42:59", "value": "82.6 F", "y": 504.7},
            {"t": "2014-07-05T17:42:59", "value": "87.3 F", "y": 440.5},
            {"t": "2014-07-05T17:42:59", "value": "-- F", "y": 375.2},
            {"t": "2014-07-05T17:42:59", "value": "72.9 F", "y": 309.6},
            {"t": "2014-07-05T17:42:59", "value": "23.3 mph", "y": 232.6},
            {"t": "2014-07-05T17:42:59", "value": "62.9 mph", "y": 166.9},
            {"t": "2014-07-05T17:42:59", "value": "233 degrees", "y": 101.7},
            {"t": "2014-07-05T17:42:59", "value": "1,009.40 mb", "y": 24.3},
            {"t": "2014-07-05T17:42:59", "value": "122 W/m^2", "y": -48.2},
            {"t": "2014-07-05T17:42:59", "value": "0.25 in.", "y": -124.1},
            {"t": "2014-07-05T17:42:59", "value": "74%", "y": -184.8}
          ], "format": {"parse": {"t": "date"}}},
          "mark": {"type": "text", "font": "DejaVu Sans", "fontSize": 14.5, "color": "#606060", "align": "left", "baseline": "middle", "clip": false},
          "encoding": {"y": {"field": "y", "type": "quantitative", "title": null, "scale": {"domain": [0, 560]}, "axis": {"title": null, "values": [0, 100, 200, 300, 400, 500], "grid": true, "tickSize": 0, "labelPadding": 9}},
            "text": {"field": "value"}}},
        {"data": {"values": [{"t": "2014-07-05T18:00:02", "t2": "2014-07-05T18:12:37", "y": -5.35, "y2": 3080}], "format": {"parse": {"t": "date", "t2": "date"}}},
          "mark": {"type": "rect", "fill": "#4f81bd", "fillOpacity": 0.17, "stroke": "#e01010", "strokeWidth": 3, "clip": false},
          "encoding": {"x2": {"field": "t2"}, "y": {"field": "y", "type": "quantitative", "title": null, "scale": {"domain": [0, 560]}, "axis": {"title": null, "values": [0, 100, 200, 300, 400, 500], "grid": true, "tickSize": 0, "labelPadding": 9}}, "y2": {"field": "y2"}}}
      ]
    }
  ]
}
